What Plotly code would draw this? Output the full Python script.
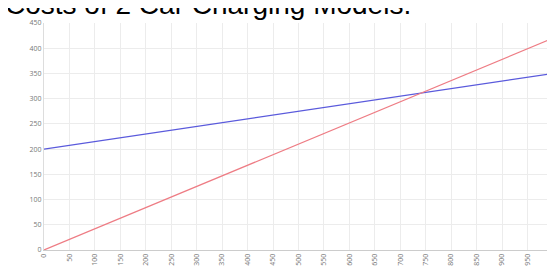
import plotly.graph_objects as go

x_vals = [0, 1000]
blue_vals = [200, 350]
red_vals = [0, 420]
x_ticks = list(range(0, 1001, 50))
y_ticks = list(range(0, 451, 50))
title_text = "Costs of 2 Car Charging Models."

fig = go.Figure()
fig.add_trace(go.Scatter(x=x_vals, y=blue_vals, mode="lines",
                         line=dict(color="#5a5adc", width=1.2), showlegend=False))
fig.add_trace(go.Scatter(x=x_vals, y=red_vals, mode="lines",
                         line=dict(color="#ee7c84", width=1.2), showlegend=False))

fig.update_layout(
    width=555, height=271,
    margin=dict(l=36, r=6, t=15, b=29),
    paper_bgcolor="white", plot_bgcolor="white",
    annotations=[dict(text=title_text, xref="paper", yref="paper",
                      x=(408 - 36) / 513, y=1.003, xanchor="right", yanchor="bottom",
                      showarrow=False, font=dict(family="Liberation Sans, Arial", size=28, color="black"))],
)
fig.update_xaxes(range=[0, 1000], tickvals=x_ticks, ticktext=[str(v) for v in x_ticks],
                 tickangle=-90, tickfont=dict(size=7, color="#777"), ticklabeloverflow="allow",
                 showgrid=True, gridcolor="#ececec", gridwidth=1,
                 showline=True, linecolor="#cccccc", zeroline=False, ticks="")
fig.update_yaxes(range=[0, 450], tickvals=y_ticks, tickfont=dict(size=7, color="#777"),
                 showgrid=True, gridcolor="#ececec", gridwidth=1,
                 showline=True, linecolor="#dddddd", zeroline=False, ticks="")

fig.write_html("out.html")
